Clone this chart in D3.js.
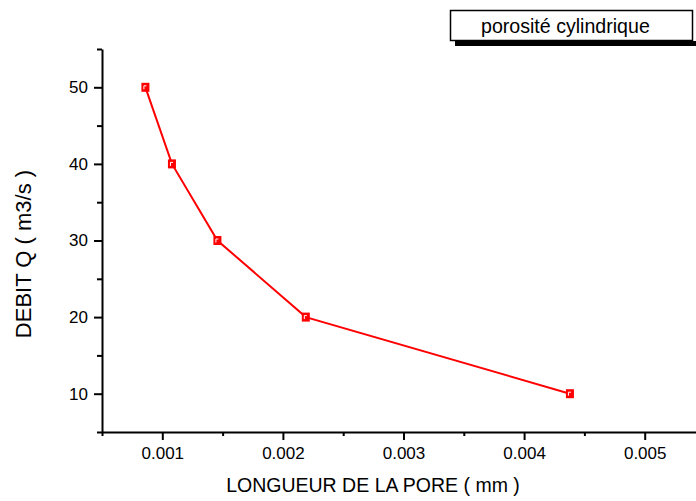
<!DOCTYPE html>
<html>
<head>
<meta charset="utf-8">
<script src="https://cdn.jsdelivr.net/npm/d3@7"></script>
<style>
  html, body { margin: 0; padding: 0; background: #fff; }
  svg { display: block; font-family: Arial, "Liberation Sans", sans-serif; }
</style>
</head>
<body>
<svg id="chart" width="696" height="501"></svg>
<script>
// Pore length (mm) vs. flow rate Q (m3/s)
const poreLength = [0.00086, 0.00108, 0.001457, 0.00219, 0.00438];
const flowRate = [50, 40, 30, 20, 10];
const seriesName = "porosité cylindrique";
const xTicks = [0.001, 0.002, 0.003, 0.004, 0.005];
const xMinorTicks = [0.0005, 0.0015, 0.0025, 0.0035, 0.0045];
const yTicks = [10, 20, 30, 40, 50];
const yMinorTicks = [5, 15, 25, 35, 45, 55];
const xTitle = "LONGUEUR DE LA PORE ( mm )";
const yTitle = "DEBIT Q ( m3/s )";

const svg = d3.select("#chart");
const plotLeft = 102, plotTop = 49, plotBottom = 432;

const x = d3.scaleLinear().domain([0.0005, 0.0055]).range([plotLeft, plotLeft + 603]);
const y = d3.scaleLinear().domain([5, 55]).range([plotBottom, plotTop]);

const fmt = d3.format(".3f");

// X axis: major and minor ticks
svg.append("g").attr("transform", `translate(0,${plotBottom})`)
  .call(d3.axisBottom(x).tickValues(xTicks).tickFormat(fmt).tickSizeInner(8).tickSizeOuter(0).tickPadding(7));
svg.append("g").attr("transform", `translate(0,${plotBottom})`)
  .call(d3.axisBottom(x).tickValues(xMinorTicks).tickFormat("").tickSizeInner(4).tickSizeOuter(0))
  .select(".domain").remove();

// Y axis: major and minor ticks
svg.append("g").attr("transform", `translate(${plotLeft},0)`)
  .call(d3.axisLeft(y).tickValues(yTicks).tickSizeInner(8).tickSizeOuter(0).tickPadding(6));
svg.append("g").attr("transform", `translate(${plotLeft},0)`)
  .call(d3.axisLeft(y).tickValues(yMinorTicks).tickFormat("").tickSizeInner(5).tickSizeOuter(0))
  .select(".domain").remove();

svg.selectAll(".domain").attr("stroke", "#000").attr("stroke-width", 2);
svg.selectAll(".tick line").attr("stroke", "#000").attr("stroke-width", 2);
svg.selectAll(".tick text").attr("fill", "#000").style("font-size", "17px")
  .style("font-family", "Arial, 'Liberation Sans', sans-serif");

// Axis titles
svg.append("text").attr("x", 373).attr("y", 492).attr("text-anchor", "middle")
  .style("font-size", "19.5px").attr("fill", "#000").text(xTitle);
svg.append("text").attr("transform", "translate(31,254) rotate(-90)").attr("text-anchor", "middle")
  .style("font-size", "22px").attr("fill", "#000").text(yTitle);

// Data line
const line = d3.line().x((d, i) => x(poreLength[i])).y(d => y(d));
svg.append("path").datum(flowRate).attr("d", line)
  .attr("fill", "none").attr("stroke", "#ff0000").attr("stroke-width", 2);

// Square markers with a small highlight
const marks = svg.append("g").selectAll("g").data(flowRate).join("g")
  .attr("transform", (d, i) => `translate(${x(poreLength[i])},${y(d)})`);
marks.append("rect").attr("x", -4).attr("y", -4.5).attr("width", 8).attr("height", 9)
  .attr("fill", "#ff0000");
marks.append("path").attr("d", "M-1.5,2 V-1.5 H1").attr("fill", "none")
  .attr("stroke", "#fff").attr("stroke-width", 1);

// Legend box with drop shadow
const lg = svg.append("g");
lg.append("rect").attr("x", 455).attr("y", 41).attr("width", 250).attr("height", 5).attr("fill", "#000");
lg.append("rect").attr("x", 450.5).attr("y", 10.5).attr("width", 242).attr("height", 30)
  .attr("fill", "#fff").attr("stroke", "#000").attr("stroke-width", 1.5);
lg.append("text").attr("x", 481).attr("y", 33).style("font-size", "19.6px").attr("fill", "#000").text(seriesName);
</script>
</body>
</html>
